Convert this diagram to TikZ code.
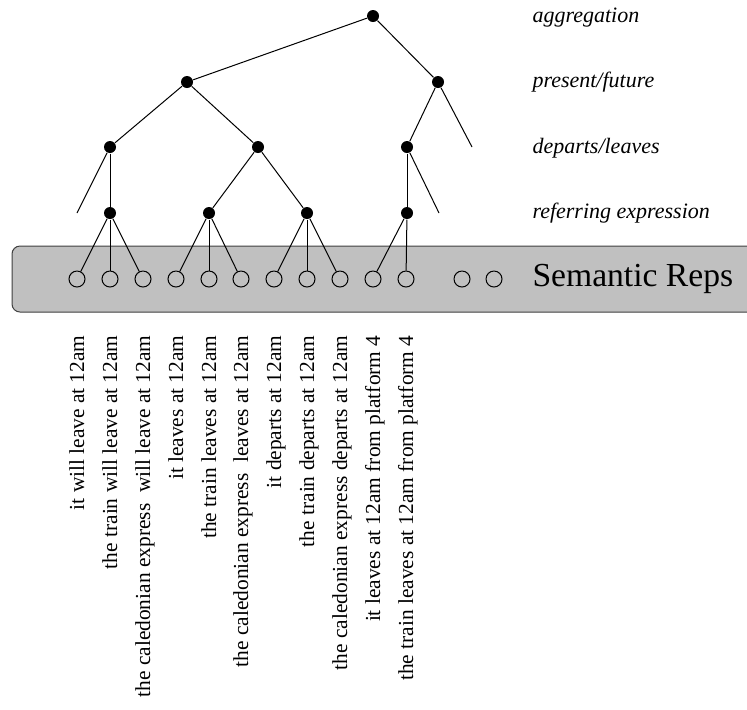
\documentclass[tikz,border=0pt]{standalone}
\usepackage{fontspec}
\setmainfont{Liberation Serif}
\usetikzlibrary{positioning}
\definecolor{bandgrey}{RGB}{192,192,192}
\begin{document}
\begin{tikzpicture}[
                    x=0.5pt,
                    y=-0.5pt,
                    line width=0.5pt,
                    dot/.style={circle, fill, inner sep=0pt, minimum size=6pt},
                    rep/.style={circle, draw, inner sep=0pt, minimum size=8pt},
                    level/.style={anchor=base west, inner sep=0pt, font=\fontsize{11}{13}\selectfont\itshape},
                    sentence/.style={anchor=base east, rotate=90, inner sep=0pt, font=\fontsize{10.7}{13}\selectfont}
                ]
                \clip (0,0) rectangle (747,709);
                \draw[fill=bandgrey, draw=black!75, rounded corners=4pt] (12,246) rectangle (790,312);
                \node[anchor=base west, inner sep=0pt, font=\fontsize{16.8}{20}\selectfont] (semreps) at (532,286) {Semantic Reps};

                \node[dot] (agg) at (373,16) {};
                \node[dot] (pf-1) at (187,82) {};
                \node[dot] (pf-2) at (438,82) {};
                \node[dot] (dl-1) at (110,147) {};
                \node[dot] (dl-2) at (258,147) {};
                \node[dot] (dl-3) at (407,147) {};
                \node[dot] (re-1) at (110,213) {};
                \node[dot] (re-2) at (209,213) {};
                \node[dot] (re-3) at (307,213) {};
                \node[dot] (re-4) at (407,213) {};
                \coordinate (open-1) at (77,213);
                \coordinate (open-2) at (472,147);
                \coordinate (open-3) at (439,213);

                \foreach \i/\x in {1/77,2/110,3/143,4/176,5/209,6/241,7/274,8/307,9/340,10/373,11/406,12/462,13/494}
                    \node[rep] (c-\i) at (\x,279) {};

                \node[level] (l-agg) at (532,22) {aggregation};
                \node[level] (l-pf) at (532,87) {present/future};
                \node[level] (l-dl) at (532,153) {departs/leaves};
                \node[level] (l-re) at (532,218) {referring expression};

                \path
                (agg) edge (pf-1)
                (agg) edge (pf-2)
                (pf-1) edge (dl-1)
                (pf-1) edge (dl-2)
                (pf-2) edge (dl-3)
                (pf-2) edge (open-2)
                (dl-1) edge (open-1)
                (dl-1) edge (re-1)
                (dl-2) edge (re-2)
                (dl-2) edge (re-3)
                (dl-3) edge (re-4)
                (dl-3) edge (open-3)
                (re-1) edge (c-1)
                (re-1) edge (c-2)
                (re-1) edge (c-3)
                (re-2) edge (c-4)
                (re-2) edge (c-5)
                (re-2) edge (c-6)
                (re-3) edge (c-7)
                (re-3) edge (c-8)
                (re-3) edge (c-9)
                (re-4) edge (c-10)
                (re-4) edge (c-11)
                ;

                \foreach \i/\x/\txt in {
                    1/84/{it will leave at 12am},
                    2/117/{the train will leave at 12am},
                    3/150/{the caledonian express\ \ will leave at 12am},
                    4/183/{it leaves at 12am},
                    5/216/{the train leaves at 12am},
                    6/248/{the caledonian express\ \ leaves at 12am},
                    7/281/{it departs at 12am},
                    8/314/{the train departs at 12am},
                    9/347/{the caledonian express departs at 12am},
                    10/380/{it leaves at 12am from platform 4},
                    11/413/{the train leaves at 12am from platform 4}}
                    \node[sentence] (s-\i) at (\x,335) {\txt};
            \end{tikzpicture}
\end{document}
